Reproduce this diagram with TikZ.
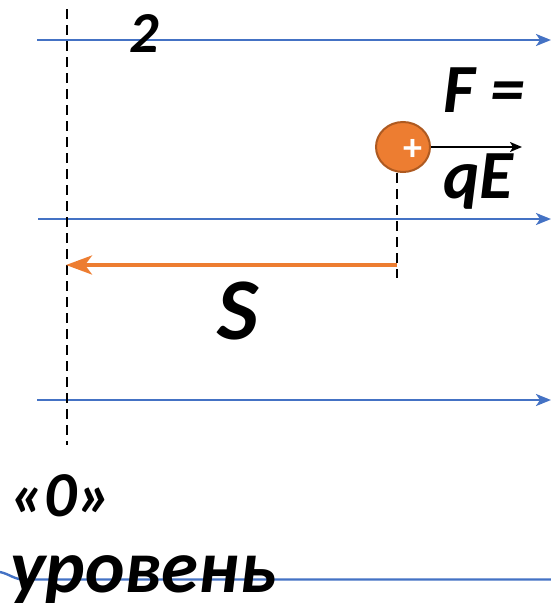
\documentclass[tikz,border=0pt]{standalone}
\usepackage{fontspec}
\setmainfont{Carlito}
\definecolor{fieldblue}{RGB}{68,114,196}
\definecolor{qorange}{RGB}{237,125,49}
\definecolor{qedge}{RGB}{174,90,33}
\usetikzlibrary{arrows.meta,positioning,shapes.geometric,calc}

\begin{document}
\begin{tikzpicture}[x=1pt, y=-1pt,
  fieldline/.style={line width=2.4pt, fieldblue},
  fieldarrow/.style={fieldline, -{Stealth[length=15pt, width=12pt, inset=4pt]}},
  dashline/.style={line width=2.6pt, black, dash pattern=on 10pt off 6pt},
  bigtext/.style={font=\fontsize{#1}{#1}\selectfont\bfseries\itshape, inner sep=0pt, anchor=base west}]
  \useasboundingbox (0,0) rectangle (551,603);
  % Field lines
  \coordinate (fa1) at (37,40);   \coordinate (fb1) at (551,40);
  \coordinate (fa2) at (38,219);  \coordinate (fb2) at (551,219);
  \coordinate (fa3) at (37,400);  \coordinate (fb3) at (551,400);
  \coordinate (fa4) at (0,572);   \coordinate (fc4) at (24,579.5); \coordinate (fb4) at (551,579.5);
  \draw[fieldarrow] (fa1) -- (fb1);
  \draw[fieldarrow] (fa2) -- (fb2);
  \draw[fieldarrow] (fa3) -- (fb3);
  \draw[fieldline] (fa4) to[out=-12, in=180] (fc4) -- (fb4);
  % Zero level
  \coordinate (zt) at (67,9);
  \coordinate (zb) at (67,445);
  \draw[dashline] (zt) -- (zb);
  % Charge
  \node[ellipse, minimum width=54pt, minimum height=50pt, fill=qorange, draw=qedge, line width=2pt, inner sep=0pt] (q) at (403,147) {};
  \node[text=white, font=\fontsize{38}{38}\selectfont\bfseries, inner sep=0pt] (plus) at (413,150) {+};
  \coordinate (qdrop) at (397,278);
  \draw[dashline] (q.south -| qdrop) -- (qdrop);
  % Force
  \coordinate (ftip) at (522,147);
  \draw[line width=1.8pt, -{Stealth[length=12pt, width=10pt, inset=3pt]}] (q.east) -- (ftip);
  % Displacement
  \coordinate (sstart) at (397,265);
  \coordinate (send) at (66,265);
  \draw[line width=3.8pt, qorange, -{Stealth[length=26pt, width=19pt, inset=7pt]}] (sstart) -- (send);
  % Labels
  \node[bigtext=58] (two) at (129,52) {2};
  \node[bigtext=69] (force) at (443,112) {F =};
  \node[bigtext=69] (qe) at (443,198) {qE};
  \node[bigtext=88] (disp) at (217,339) {S};
  \node[bigtext=64] (zero) at (10,516) {«0»};
  \node[bigtext=75] (level) at (10,592) {уровень};
\end{tikzpicture}
\end{document}
